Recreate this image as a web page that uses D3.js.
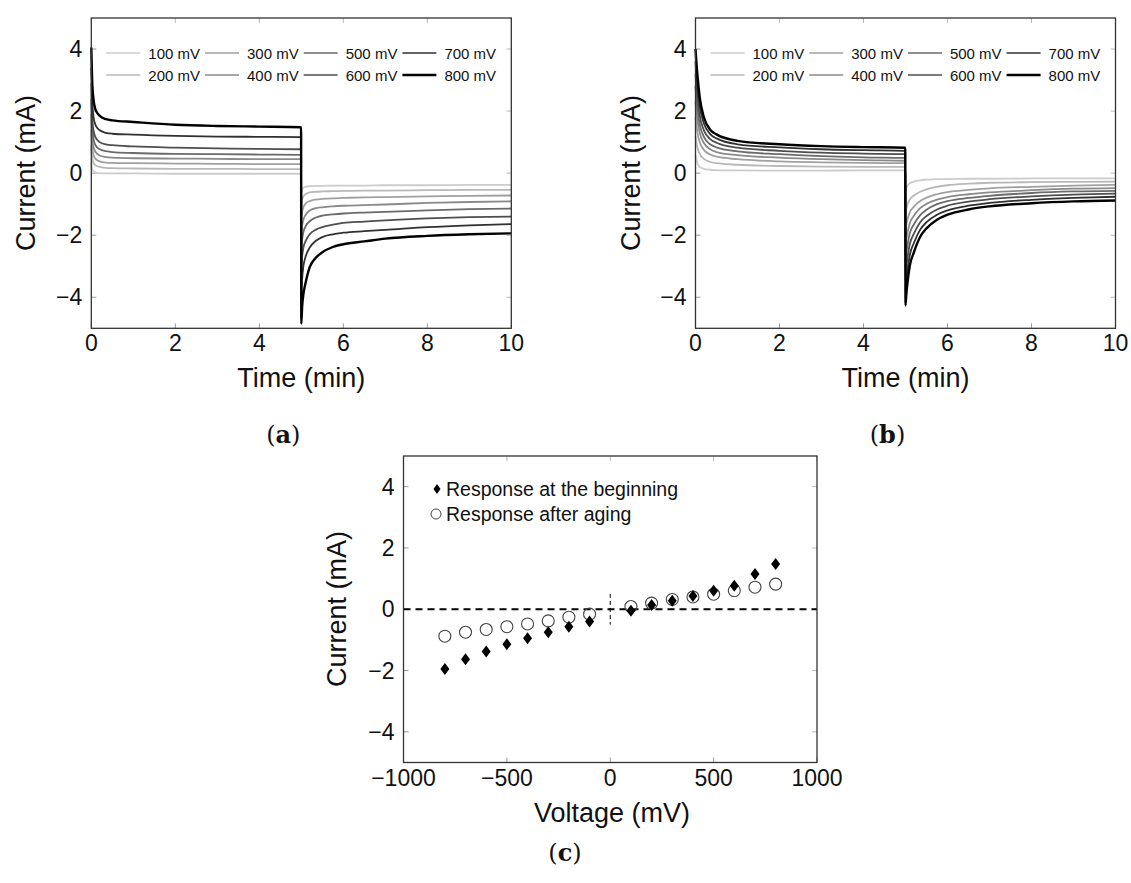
<!DOCTYPE html>
<html>
<head>
<meta charset="utf-8">
<script src="https://cdn.jsdelivr.net/npm/d3@7"></script>
<style>
  body { margin: 0; background: #fff; }
  svg { display: block; font-family: "Liberation Sans", Arial, sans-serif; }
  .tick-lbl { font-size: 23px; fill: #111; }
  .ax-lbl { font-size: 27px; fill: #111; }
  .leg { font-size: 15px; fill: #111; }
  .leg-c { font-size: 19.5px; fill: #111; }
  .cap { font-family: "DejaVu Serif", "Liberation Serif", serif; font-size: 24px; fill: #111; }
</style>
</head>
<body>
<svg id="fig" width="1131" height="883"></svg>
<script>
// time axis shared by all transient curves (min)
const timeMin = [0, 0.02, 0.05, 0.1, 0.2, 0.35, 0.5, 1, 2, 3, 4, 4.995,
                 5, 5.02, 5.05, 5.1, 5.2, 5.35, 5.5, 5.75, 6, 6.5, 7, 8, 9, 10]

const stepLabels = ['100 mV','200 mV','300 mV','400 mV','500 mV','600 mV','700 mV','800 mV']

// (a) response at the beginning, 100 mV .. 800 mV
const currentFresh = [
  [0.35, 0.15, 0.06, 0.02, 0.0, -0.01, -0.01, -0.01, -0.02, -0.02, -0.02, -0.02,
   -0.6, -0.52, -0.47, -0.44, -0.42, -0.41, -0.41, -0.4, -0.4, -0.4, -0.39, -0.39, -0.38, -0.38],
  [0.9, 0.5, 0.33, 0.25, 0.2, 0.17, 0.16, 0.15, 0.14, 0.14, 0.13, 0.13,
   -1.05, -0.85, -0.75, -0.68, -0.62, -0.6, -0.59, -0.58, -0.57, -0.56, -0.56, -0.55, -0.54, -0.54],
  [1.4, 0.85, 0.6, 0.46, 0.38, 0.34, 0.33, 0.32, 0.31, 0.3, 0.29, 0.29,
   -1.5, -1.25, -1.1, -0.98, -0.9, -0.85, -0.83, -0.81, -0.8, -0.78, -0.77, -0.75, -0.73, -0.72],
  [1.9, 1.2, 0.85, 0.68, 0.57, 0.52, 0.5, 0.48, 0.47, 0.46, 0.45, 0.45,
   -2.0, -1.7, -1.5, -1.35, -1.2, -1.13, -1.1, -1.07, -1.05, -1.03, -1.01, -0.96, -0.93, -0.91],
  [2.4, 1.55, 1.12, 0.9, 0.77, 0.71, 0.68, 0.65, 0.62, 0.61, 0.6, 0.59,
   -2.5, -2.15, -1.9, -1.72, -1.55, -1.43, -1.37, -1.33, -1.3, -1.27, -1.25, -1.2, -1.16, -1.14],
  [2.9, 1.9, 1.4, 1.15, 1.0, 0.93, 0.9, 0.86, 0.82, 0.8, 0.78, 0.77,
   -3.1, -2.7, -2.4, -2.2, -1.97, -1.82, -1.74, -1.66, -1.6, -1.56, -1.52, -1.46, -1.42, -1.40],
  [3.4, 2.4, 1.85, 1.55, 1.38, 1.3, 1.27, 1.24, 1.2, 1.18, 1.17, 1.16,
   -3.9, -3.4, -3.0, -2.7, -2.4, -2.18, -2.06, -1.97, -1.92, -1.87, -1.83, -1.74, -1.68, -1.64],
  [4.05, 3.0, 2.4, 2.05, 1.85, 1.74, 1.70, 1.65, 1.56, 1.52, 1.50, 1.48,
   -4.85, -4.3, -3.9, -3.55, -3.03, -2.72, -2.55, -2.38, -2.29, -2.2, -2.11, -2.02, -1.97, -1.94]
]

// (b) response after aging, 100 mV .. 800 mV
const currentAged = [
  [0.6, 0.45, 0.3, 0.2, 0.14, 0.11, 0.1, 0.09, 0.08, 0.08, 0.09, 0.09,
   -0.55, -0.48, -0.4, -0.33, -0.27, -0.23, -0.21, -0.19, -0.19, -0.18, -0.18, -0.17, -0.17, -0.17],
  [1.2, 1.0, 0.8, 0.62, 0.46, 0.36, 0.32, 0.27, 0.23, 0.21, 0.2, 0.2,
   -1.3, -1.15, -1.0, -0.85, -0.72, -0.6, -0.52, -0.44, -0.39, -0.34, -0.31, -0.29, -0.28, -0.27],
  [1.8, 1.55, 1.27, 1.0, 0.75, 0.6, 0.53, 0.45, 0.38, 0.35, 0.33, 0.32,
   -1.8, -1.65, -1.48, -1.27, -1.08, -0.9, -0.79, -0.68, -0.61, -0.54, -0.49, -0.44, -0.4, -0.38],
  [2.3, 2.0, 1.65, 1.3, 0.97, 0.77, 0.68, 0.58, 0.5, 0.45, 0.42, 0.40,
   -2.3, -2.1, -1.9, -1.62, -1.37, -1.13, -0.99, -0.85, -0.77, -0.68, -0.62, -0.55, -0.5, -0.48],
  [2.8, 2.4, 2.0, 1.57, 1.17, 0.93, 0.83, 0.7, 0.61, 0.55, 0.51, 0.49,
   -2.8, -2.55, -2.3, -1.95, -1.65, -1.35, -1.18, -1.0, -0.9, -0.8, -0.73, -0.64, -0.59, -0.57],
  [3.2, 2.8, 2.35, 1.85, 1.38, 1.1, 0.98, 0.82, 0.72, 0.66, 0.63, 0.61,
   -3.3, -3.0, -2.7, -2.3, -1.95, -1.58, -1.38, -1.17, -1.05, -0.92, -0.84, -0.75, -0.69, -0.66],
  [3.6, 3.2, 2.7, 2.15, 1.6, 1.26, 1.12, 0.93, 0.83, 0.77, 0.74, 0.72,
   -3.8, -3.45, -3.1, -2.65, -2.25, -1.82, -1.58, -1.34, -1.2, -1.05, -0.96, -0.86, -0.8, -0.76],
  [4.0, 3.6, 3.1, 2.45, 1.8, 1.4, 1.25, 1.04, 0.93, 0.87, 0.84, 0.82,
   -4.26, -3.9, -3.5, -3.0, -2.55, -2.05, -1.78, -1.5, -1.34, -1.17, -1.07, -0.97, -0.91, -0.88]
]

// (c) I-V
const voltages = [-800, -700, -600, -500, -400, -300, -200, -100, 100, 200, 300, 400, 500, 600, 700, 800]
const ivFresh = [-1.95, -1.63, -1.38, -1.14, -0.95, -0.75, -0.57, -0.40,
                 -0.05, 0.14, 0.28, 0.43, 0.60, 0.77, 1.15, 1.48]
const ivAged  = [-0.88, -0.75, -0.66, -0.57, -0.48, -0.38, -0.26, -0.16,
                  0.09, 0.20, 0.32, 0.40, 0.49, 0.61, 0.72, 0.82]
const ivLegend = ['Response at the beginning', 'Response after aging']

const lineGray = ['#cccccc','#b8b8b8','#a0a0a0','#8a8a8a','#6a6a6a','#4e4e4e','#303030','#000000']

const svg = d3.select('#fig')

function frame(g, x, y, xTicks, yTicks){
  const [x0,x1] = x.range(), [y0,y1] = y.range()
  const tk = 5
  xTicks.forEach(v=>{
    g.append('line').attr('x1',x(v)).attr('x2',x(v)).attr('y1',y0).attr('y2',y0-tk).attr('stroke','#999')
    g.append('line').attr('x1',x(v)).attr('x2',x(v)).attr('y1',y1).attr('y2',y1+tk).attr('stroke','#bbb')
    g.append('text').attr('class','tick-lbl').attr('x',x(v)).attr('y',y0+23)
      .attr('text-anchor','middle').text(d3.format('')(v).replace('-','\u2212'))
  })
  yTicks.forEach(v=>{
    g.append('line').attr('x1',x0).attr('x2',x0+tk).attr('y1',y(v)).attr('y2',y(v)).attr('stroke','#999')
    g.append('line').attr('x1',x1).attr('x2',x1-tk).attr('y1',y(v)).attr('y2',y(v)).attr('stroke','#bbb')
    g.append('text').attr('class','tick-lbl').attr('x',x0-9).attr('y',y(v)+8)
      .attr('text-anchor','end').text(d3.format('')(v).replace('-','\u2212'))
  })
}

function box(g, x, y){
  const [x0,x1] = x.range(), [y0,y1] = y.range()
  g.append('rect').attr('x',x0).attr('y',y1).attr('width',x1-x0).attr('height',y0-y1)
    .attr('fill','none').attr('stroke','#333').attr('stroke-width',1.3)
}

function transientPanel(left, data, caption){
  const g = svg.append('g')
  const x = d3.scaleLinear().domain([0,10]).range([left, left+420])
  const y = d3.scaleLinear().domain([-5,5]).range([328.3, 18])
  frame(g, x, y, [0,2,4,6,8,10], [-4,-2,0,2,4])

  const line = d3.line().x((d,i)=>x(timeMin[i])).y(d=>y(d)).curve(d3.curveMonotoneX)
  data.forEach((s,k)=>{
    g.append('path').datum(s).attr('d',line).attr('fill','none')
      .attr('stroke',lineGray[k]).attr('stroke-width',k==7?2.4:1.8)
      .attr('stroke-linejoin','round')
  })
  box(g, x, y)

  // legend, 4 columns x 2 rows
  stepLabels.forEach((lbl,k)=>{
    const col = Math.floor(k/2), row = k%2
    const lx = left + 15 + col*98.7, ly = 53 + row*22
    g.append('line').attr('x1',lx).attr('x2',lx+34).attr('y1',ly).attr('y2',ly)
      .attr('stroke',lineGray[k]).attr('stroke-width',k==7?2.4:1.5)
    g.append('text').attr('class','leg').attr('x',lx+42).attr('y',ly+5.5).text(lbl)
  })

  g.append('text').attr('class','ax-lbl').attr('x',left+210).attr('y',387)
    .attr('text-anchor','middle').text('Time (min)')
  g.append('text').attr('class','ax-lbl').attr('transform',`translate(${left-56},173) rotate(-90)`)
    .attr('text-anchor','middle').text('Current (mA)')
  const c = g.append('text').attr('class','cap').attr('x',left+192).attr('y',443).attr('text-anchor','middle')
  c.append('tspan').text('(')
  c.append('tspan').attr('font-weight','bold').text(caption)
  c.append('tspan').text(')')
}

transientPanel(91.3, currentFresh, 'a')
transientPanel(695.5, currentAged, 'b')

// ---- (c) ----
const gc = svg.append('g')
const xc = d3.scaleLinear().domain([-1000,1000]).range([403.5, 817])
const yc = d3.scaleLinear().domain([-5,5]).range([762.5, 456])
frame(gc, xc, yc, [-1000,-500,0,500,1000], [-4,-2,0,2,4])

gc.append('line').attr('x1',xc(-1000)).attr('x2',xc(1000)).attr('y1',yc(0)).attr('y2',yc(0))
  .attr('stroke','#000').attr('stroke-width',2).attr('stroke-dasharray','7,5')
gc.append('line').attr('x1',xc(0)).attr('x2',xc(0)).attr('y1',yc(0.5)).attr('y2',yc(-0.5))
  .attr('stroke','#000').attr('stroke-width',1).attr('stroke-dasharray','4,3')

const diamond = 'M0,-6 L4.5,0 L0,6 L-4.5,0 Z'

gc.selectAll('circle.aged').data(ivAged).join('circle').attr('class','aged')
  .attr('cx',(d,i)=>xc(voltages[i])).attr('cy',d=>yc(d)).attr('r',6)
  .attr('fill','none').attr('stroke','#444').attr('stroke-width',1.1)
gc.selectAll('path.fresh').data(ivFresh).join('path').attr('class','fresh')
  .attr('d',diamond).attr('transform',(d,i)=>`translate(${xc(voltages[i])},${yc(d)})`)
  .attr('fill','#000')
box(gc, xc, yc)

gc.append('path').attr('d','M0,-5 L3.5,0 L0,5 L-3.5,0 Z').attr('transform','translate(437,489)').attr('fill','#000')
gc.append('text').attr('class','leg-c').attr('x',446).attr('y',496).text(ivLegend[0])
gc.append('circle').attr('cx',436).attr('cy',514).attr('r',5).attr('fill','none').attr('stroke','#444')
gc.append('text').attr('class','leg-c').attr('x',446).attr('y',521).text(ivLegend[1])

gc.append('text').attr('class','ax-lbl').attr('x',612).attr('y',822)
  .attr('text-anchor','middle').text('Voltage (mV)')
gc.append('text').attr('class','ax-lbl').attr('transform','translate(346,609) rotate(-90)')
  .attr('text-anchor','middle').text('Current (mA)')
const cc = gc.append('text').attr('class','cap').attr('x',565).attr('y',861).attr('text-anchor','middle')
cc.append('tspan').text('(')
cc.append('tspan').attr('font-weight','bold').text('c')
cc.append('tspan').text(')')
</script>
</body>
</html>
